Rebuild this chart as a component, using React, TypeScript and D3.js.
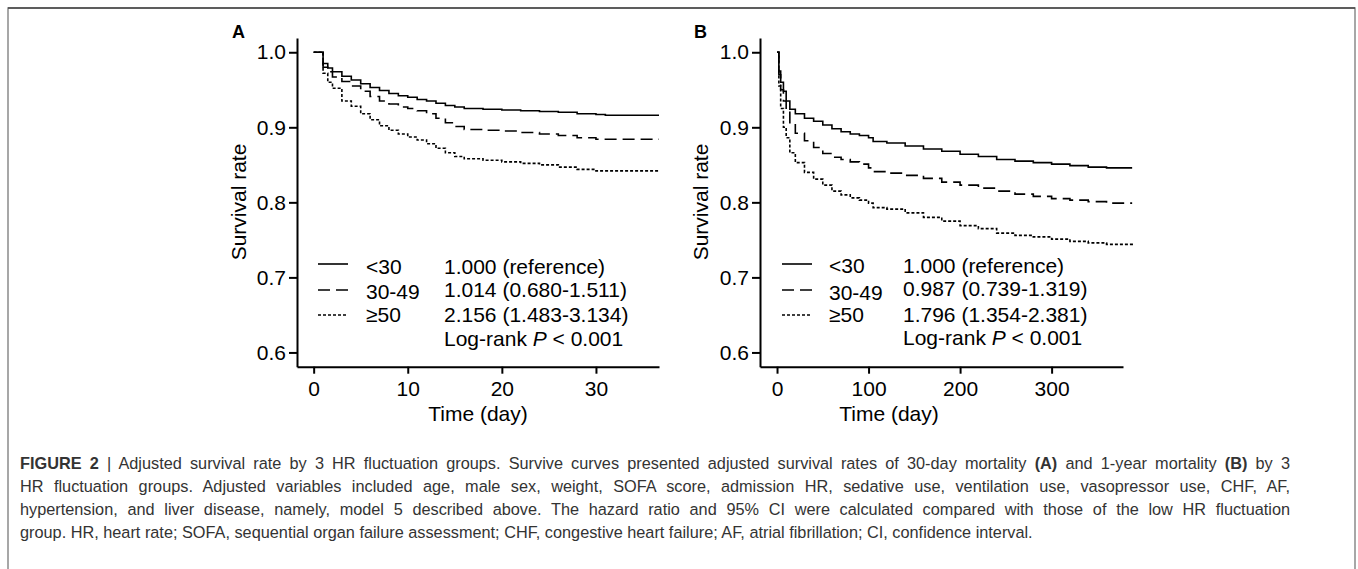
import React, { useEffect, useRef } from "react";
import * as d3 from "d3";

// panel A: 30-day survival
const timesA = [0, 1, 1.5, 2, 3, 4, 5, 6, 7, 8, 9, 10, 11, 12, 13, 14, 15, 16, 18, 20, 22, 24, 26, 28, 30, 31, 36.7];
const survA_lt30 = [1.0, 0.985, 0.979, 0.974, 0.968, 0.963, 0.958, 0.953, 0.949, 0.945, 0.942, 0.94, 0.937, 0.935, 0.932, 0.929, 0.927, 0.925, 0.924, 0.923, 0.922, 0.921, 0.92, 0.918, 0.917, 0.916, 0.916];
const survA_30to49 = [1.0, 0.98, 0.974, 0.967, 0.961, 0.955, 0.948, 0.941, 0.935, 0.931, 0.927, 0.925, 0.922, 0.918, 0.912, 0.906, 0.901, 0.897, 0.896, 0.895, 0.893, 0.891, 0.889, 0.886, 0.884, 0.884, 0.884];
const survA_ge50 = [1.0, 0.972, 0.96, 0.952, 0.935, 0.928, 0.918, 0.91, 0.902, 0.896, 0.891, 0.887, 0.883, 0.878, 0.872, 0.866, 0.861, 0.858, 0.856, 0.854, 0.852, 0.85, 0.847, 0.844, 0.842, 0.842, 0.842];

// panel B: 1-year survival
const timesB = [0, 2, 4, 7, 10, 14, 20, 30, 40, 50, 60, 70, 80, 90, 100, 105, 120, 140, 160, 180, 200, 220, 240, 260, 280, 300, 320, 340, 360, 388];
const survB_lt30 = [1.0, 0.975, 0.96, 0.948, 0.935, 0.924, 0.918, 0.912, 0.908, 0.903, 0.898, 0.894, 0.891, 0.889, 0.886, 0.881, 0.879, 0.875, 0.871, 0.868, 0.864, 0.861, 0.857, 0.855, 0.853, 0.851, 0.849, 0.847, 0.846, 0.846];
const survB_30to49 = [1.0, 0.97, 0.95, 0.935, 0.92, 0.905, 0.892, 0.882, 0.873, 0.865, 0.86, 0.857, 0.854, 0.851, 0.846, 0.841, 0.839, 0.836, 0.832, 0.827, 0.823, 0.819, 0.815, 0.811, 0.808, 0.805, 0.803, 0.801, 0.799, 0.799];
const survB_ge50 = [1.0, 0.955, 0.925, 0.9, 0.886, 0.866, 0.853, 0.84, 0.831, 0.823, 0.815, 0.81, 0.806, 0.803, 0.799, 0.793, 0.791, 0.786, 0.78, 0.775, 0.769, 0.765, 0.759, 0.756, 0.754, 0.751, 0.748, 0.746, 0.744, 0.742];

const yTicks = [0.6, 0.7, 0.8, 0.9, 1.0];
const xTicksA = [0, 10, 20, 30];
const xTicksB = [0, 100, 200, 300];

const groups = ["<30", "30-49", "\u226550"];
const hrA = ["1.000 (reference)", "1.014 (0.680-1.511)", "2.156 (1.483-3.134)"];
const hrB = ["1.000 (reference)", "0.987 (0.739-1.319)", "1.796 (1.354-2.381)"];
const dashes = [null, "12 6", "3 2"];

const captionLines = [
  "Adjusted survival rate by 3 HR fluctuation groups. Survive curves presented adjusted survival rates of 30-day mortality ",
  "HR fluctuation groups. Adjusted variables included age, male sex, weight, SOFA score, admission HR, sedative use, ventilation use, vasopressor use, CHF, AF,",
  "hypertension, and liver disease, namely, model 5 described above. The hazard ratio and 95% CI were calculated compared with those of the low HR fluctuation",
  "group. HR, heart rate; SOFA, sequential organ failure assessment; CHF, congestive heart failure; AF, atrial fibrillation; CI, confidence interval.",
];

const FONT = "'Liberation Sans', Arial, Helvetica, sans-serif";

const App = () => {
  const ref = useRef<SVGSVGElement>(null);

  useEffect(() => {
    const svg = d3.select(ref.current);
    svg.selectAll("*").remove();

    // frame
    svg.append("rect").attr("x", 8).attr("y", 8).attr("width", 1347).attr("height", 580)
      .attr("fill", "none").attr("stroke", "#8a8a8a").attr("stroke-width", 1.5);
    svg.append("line").attr("x1", 8).attr("x2", 1355).attr("y1", 8).attr("y2", 8)
      .attr("stroke", "#444").attr("stroke-width", 1.5);

    const y = d3.scaleLinear().domain([0.581, 1.019]).range([366.7, 38]);

    const panels = [
      {
        letter: "A", letterX: 232, left: 297, right: 659, domain: [-1.77, 36.7], ticks: xTicksA,
        times: timesA, series: [survA_lt30, survA_30to49, survA_ge50], hr: hrA,
        ylabX: 246, xlabX: 478, legX: 318, grpX: 366, hrX: 444,
        grpY: [274, 299, 322], hrY: [274, 297, 322, 346],
      },
      {
        letter: "B", letterX: 694, left: 760, right: 1123, domain: [-18.6, 378], ticks: xTicksB,
        times: timesB, series: [survB_lt30, survB_30to49, survB_ge50], hr: hrB,
        ylabX: 708, xlabX: 889, legX: 782, grpX: 829, hrX: 903,
        grpY: [273, 300, 322], hrY: [273, 296, 322, 345],
      },
    ];

    panels.forEach((p) => {
      const x = d3.scaleLinear().domain(p.domain).range([p.left, p.right]);
      const g = svg.append("g");

      // axes
      const ya = g.append("g").attr("transform", `translate(${p.left},0)`)
        .call(d3.axisLeft(y).tickValues(yTicks).tickFormat(d3.format(".1f")).tickSize(8).tickSizeOuter(0).tickPadding(3));
      const xa = g.append("g").attr("transform", `translate(0,366.7)`)
        .call(d3.axisBottom(x).tickValues(p.ticks).tickFormat(d3.format("d")).tickSize(7).tickSizeOuter(0).tickPadding(7));
      [ya, xa].forEach((a) => {
        a.selectAll("path,line").attr("stroke", "#000").attr("stroke-width", 2);
        a.selectAll("text").attr("font-size", "21px").attr("font-family", FONT).attr("fill", "#000");
      });

      // curves
      p.series.forEach((s, i) => {
        const line = d3.line<number>()
          .x((_, j) => x(p.times[j]))
          .y((d) => y(d))
          .curve(d3.curveStepAfter);
        g.append("path").attr("d", line(s)).attr("fill", "none").attr("stroke", "#000")
          .attr("stroke-width", 1.6).attr("stroke-dasharray", dashes[i]);
      });

      // labels
      g.append("text").text(p.letter).attr("x", p.letterX).attr("y", 38)
        .attr("font-family", FONT).attr("font-weight", "bold").attr("font-size", "18px");
      g.append("text").text("Survival rate").attr("transform", `translate(${p.ylabX},202) rotate(-90)`)
        .attr("text-anchor", "middle").attr("font-family", FONT).attr("font-size", "21px");
      g.append("text").text("Time (day)").attr("x", p.xlabX).attr("y", 421)
        .attr("text-anchor", "middle").attr("font-family", FONT).attr("font-size", "21px");

      // legend
      const lineY = [264, 290, 315];
      groups.forEach((grp, i) => {
        g.append("line").attr("x1", p.legX).attr("x2", p.legX + 30).attr("y1", lineY[i]).attr("y2", lineY[i])
          .attr("stroke", "#000").attr("stroke-width", 1.6).attr("stroke-dasharray", dashes[i]);
        g.append("text").text(grp).attr("x", p.grpX).attr("y", p.grpY[i])
          .attr("font-family", FONT).attr("font-size", "21px");
        g.append("text").text(p.hr[i]).attr("x", p.hrX).attr("y", p.hrY[i])
          .attr("font-family", FONT).attr("font-size", "21px");
      });
      const lr = g.append("text").attr("x", p.hrX).attr("y", p.hrY[3])
        .attr("font-family", FONT).attr("font-size", "21px");
      lr.append("tspan").text("Log-rank ");
      lr.append("tspan").text("P").attr("font-style", "italic");
      lr.append("tspan").text(" < 0.001");
    });

    // caption, justified except the last line
    const cap = svg.append("g").attr("font-family", FONT).attr("font-size", "16.3px").attr("fill", "#333");
    const baselines = [469, 492, 515, 538];
    const capW = 1270;
    const rows: any[] = [];
    const l1 = cap.append("text").attr("x", 20).attr("y", baselines[0]);
    l1.append("tspan").text("FIGURE 2 ").attr("font-weight", "bold");
    l1.append("tspan").text("| ");
    l1.append("tspan").text(captionLines[0]);
    l1.append("tspan").text("(A)").attr("font-weight", "bold");
    l1.append("tspan").text(" and 1-year mortality ");
    l1.append("tspan").text("(B)").attr("font-weight", "bold");
    l1.append("tspan").text(" by 3");
    rows.push(l1);
    for (let i = 1; i < 4; i++) {
      rows.push(cap.append("text").attr("x", 20).attr("y", baselines[i]).text(captionLines[i]));
    }
    rows.slice(0, 3).forEach((r) => {
      const node = r.node() as SVGTextElement;
      const natural = node.getComputedTextLength();
      const spaces = (node.textContent || "").trim().split(" ").length - 1;
      if (spaces > 0 && natural < capW) r.attr("word-spacing", (capW - natural) / spaces);
    });
  }, []);

  return (
    <svg ref={ref} width={1358} height={569}
      style={{ position: "absolute", left: 0, top: 0, background: "#fff" }} />
  );
};

export default App;
